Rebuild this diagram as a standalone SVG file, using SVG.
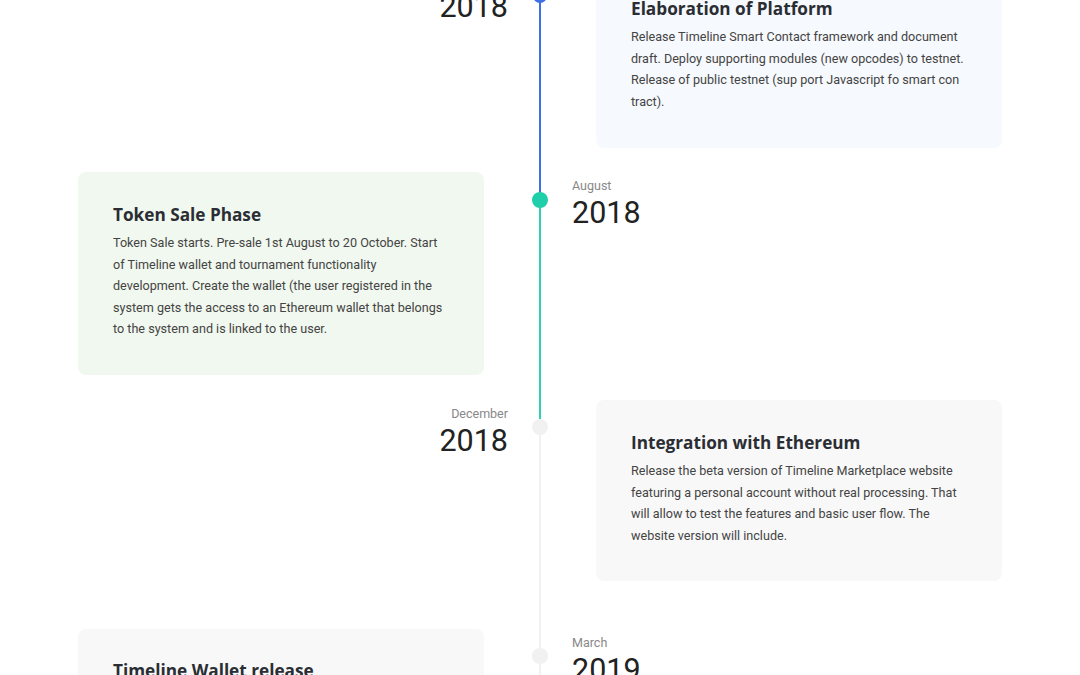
<svg xmlns="http://www.w3.org/2000/svg" width="1080" height="675" viewBox="0 0 1080 675">
<style>
.title{font-family:"Open Sans","Liberation Sans",sans-serif;font-weight:700;font-size:17.2px;fill:#2a2d33}
.body{font-family:Roboto,"Liberation Sans",sans-serif;font-size:12.6px;fill:#444}
.month{font-family:Roboto,"Liberation Sans",sans-serif;font-size:12.5px;fill:#888}
.year{font-family:Roboto,"Liberation Sans",sans-serif;font-weight:400;font-size:30.5px;fill:#222}
</style>
<rect width="1080" height="675" fill="#ffffff"/>
<g id="connectors">
<line x1="540" y1="0" x2="540" y2="200" stroke="#3f6fe6" stroke-width="2"/>
<line x1="540" y1="200" x2="540" y2="419" stroke="#2ed1b2" stroke-width="2"/>
<line x1="540" y1="419" x2="540" y2="675" stroke="#f1f1f1" stroke-width="2"/>
</g>
<g id="dots">
<circle cx="540" cy="-4" r="7" fill="#3f6fe6"/>
<circle cx="540" cy="200" r="8" fill="#1fcfaa"/>
<circle cx="540" cy="427" r="8" fill="#f1f1f1"/>
<circle cx="540" cy="656" r="8" fill="#f1f1f1"/>
</g>
<g id="node-elaboration">
<rect x="596" y="-20" width="406" height="168" rx="8" fill="#f6f9fd"/>
<text class="title" x="631" y="15">Elaboration of Platform</text>
<text class="body" x="631" y="41">Release Timeline Smart Contact framework and document</text>
<text class="body" x="631" y="62.5">draft. Deploy supporting modules (new opcodes) to testnet.</text>
<text class="body" x="631" y="84">Release of public testnet (sup port Javascript fo smart con</text>
<text class="body" x="631" y="105.5">tract).</text>
<text class="year" x="508" y="17" text-anchor="end">2018</text>
</g>
<g id="node-token-sale">
<rect x="78" y="172" width="406" height="203" rx="8" fill="#f1f8ef"/>
<text class="title" x="113" y="221">Token Sale Phase</text>
<text class="body" x="113" y="247">Token Sale starts. Pre-sale 1st August to 20 October. Start</text>
<text class="body" x="113" y="268.5">of Timeline wallet and tournament functionality</text>
<text class="body" x="113" y="290">development. Create the wallet (the user registered in the</text>
<text class="body" x="113" y="311.5">system gets the access to an Ethereum wallet that belongs</text>
<text class="body" x="113" y="333">to the system and is linked to the user.</text>
<text class="month" x="572" y="190">August</text>
<text class="year" x="572" y="223">2018</text>
</g>
<g id="node-integration">
<rect x="596" y="400" width="406" height="181" rx="8" fill="#f8f8f8"/>
<text class="title" x="631" y="449">Integration with Ethereum</text>
<text class="body" x="631" y="475">Release the beta version of Timeline Marketplace website</text>
<text class="body" x="631" y="496.5">featuring a personal account without real processing. That</text>
<text class="body" x="631" y="518">will allow to test the features and basic user flow. The</text>
<text class="body" x="631" y="539.5">website version will include.</text>
<text class="month" x="508" y="418" text-anchor="end">December</text>
<text class="year" x="508" y="451" text-anchor="end">2018</text>
</g>
<g id="node-wallet">
<rect x="78" y="629" width="406" height="80" rx="8" fill="#f8f8f8"/>
<text class="title" x="113" y="677">Timeline Wallet release</text>
<text class="month" x="572" y="647">March</text>
<text class="year" x="572" y="680">2019</text>
</g>
</svg>
